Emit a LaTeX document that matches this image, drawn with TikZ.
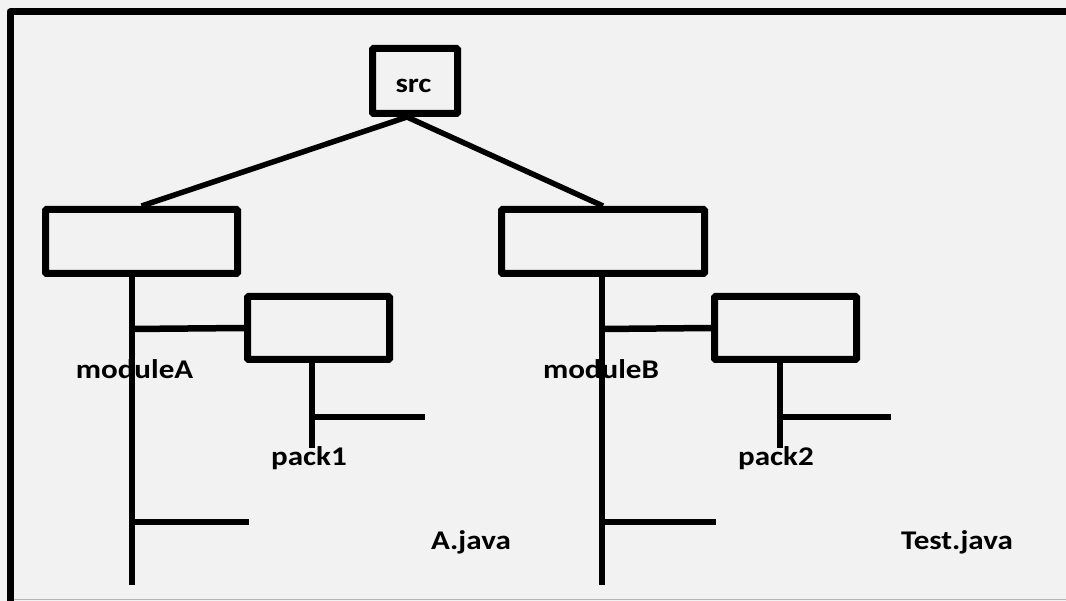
\documentclass[tikz,border=0pt]{standalone}
\usepackage{fontspec}
\setmainfont{Carlito}
\definecolor{pagebg}{HTML}{F2F2F2}
\definecolor{edgegray}{HTML}{B4B4B4}

\begin{document}
\begin{tikzpicture}[
  x=1pt, y=-1pt,
  line width=6.5pt,
  dirbox/.style={draw, line width=7pt, rounded corners=1pt, inner sep=0pt},
  tag/.style={font=\fontsize{27}{30}\selectfont\bfseries, xscale=1.15,
              anchor=base, inner sep=0pt}
]
  \fill[pagebg] (0,0) rectangle (1066,601);
  \useasboundingbox (0,0) rectangle (1066,601);
  \draw[edgegray, line width=1.5pt] (10,599.5) -- (1066,599.5);
  \draw[line width=7pt, line join=round] (1066,12) -- (10,12) -- (10,601);

  % folder boxes
  \node[dirbox, minimum width=85pt, minimum height=65pt] (src) at (415,81) {};
  \node[dirbox, minimum width=192pt, minimum height=64pt] (modA) at (141.5,241.5) {};
  \node[dirbox, minimum width=203pt, minimum height=64pt] (modB) at (603,241.5) {};
  \node[dirbox, minimum width=142pt, minimum height=63pt] (pack1) at (318.5,328) {};
  \node[dirbox, minimum width=142pt, minimum height=63pt] (pack2) at (785.5,328) {};

  % line ends
  \coordinate (modAend) at (132,585);
  \coordinate (modAfile) at (249,522);
  \coordinate (pack1end) at (312,448);
  \coordinate (pack1file) at (425,417);
  \coordinate (modBend) at (602,585);
  \coordinate (modBfile) at (716,522);
  \coordinate (pack2end) at (780,448);
  \coordinate (pack2file) at (891,417);

  \draw[line width=5.5pt] (modA.north) -- ([xshift=-8pt]src.south) -- (modB.north);

  \draw ([xshift=-9.5pt]modA.south) -- (modAend);
  \draw (132,329) -- (pack1.west);
  \draw (132,522) -- (modAfile);
  \draw ([xshift=-6.5pt]pack1.south) -- (pack1end);
  \draw (312,417) -- (pack1file);

  \draw ([xshift=-1pt]modB.south) -- (modBend);
  \draw (602,329) -- (pack2.west);
  \draw (602,522) -- (modBfile);
  \draw ([xshift=-5.5pt]pack2.south) -- (pack2end);
  \draw (780,417) -- (pack2file);

  % names
  \node[tag] (srcname) at (413.5,93) {src};
  \node[tag] (modAname) at (134.5,379) {moduleA};
  \node[tag] (modBname) at (601,379) {moduleB};
  \node[tag] (pack1name) at (309,465) {pack1};
  \node[tag] (pack2name) at (776,465) {pack2};
  \node[tag] (ajava) at (471,549) {A.java};
  \node[tag] (testjava) at (957,549) {Test.java};
\end{tikzpicture}
\end{document}
